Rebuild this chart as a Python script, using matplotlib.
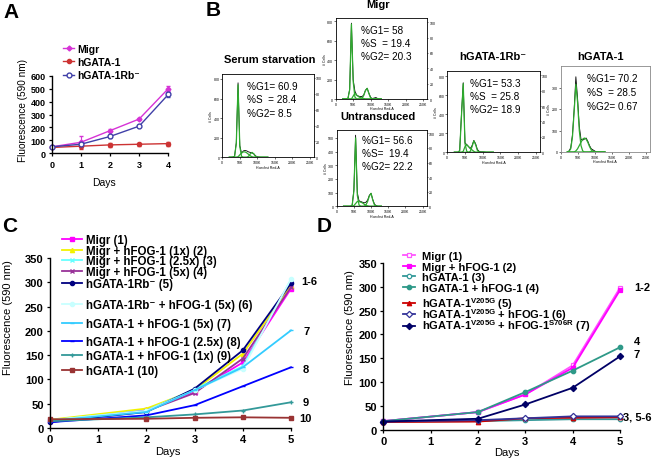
import matplotlib
matplotlib.use("Agg")
import matplotlib.pyplot as plt

plt.rcParams['font.family'] = ['Liberation Sans', 'DejaVu Sans']
plt.rcParams['font.weight'] = 'bold'
plt.rcParams['mathtext.fontset'] = 'custom'
plt.rcParams['mathtext.rm'] = 'Liberation Sans:bold'
plt.rcParams['mathtext.bf'] = 'Liberation Sans:bold'
plt.rcParams['axes.linewidth'] = 1.0

# ---- data: panel A ----
a_days = [0, 1, 2, 3, 4]
a_labels = ['Migr', 'hGATA-1', 'hGATA-1Rb\u207b']
a_migr = [50, 85, 175, 265, 500]
a_migr_err = [5, 45, 10, 10, 20]
a_gata = [45, 55, 65, 70, 75]
a_gata_err = [5, 20, 15, 12, 15]
a_rb = [50, 70, 130, 210, 455]
a_rb_err = [5, 10, 8, 10, 20]

# ---- data: panel B (cell cycle histograms, counts per 5K bin) ----
hist_k = [20, 25, 30, 35, 40, 45, 50, 55, 60, 65, 70, 75, 80, 85, 90, 95, 100, 105, 110, 115, 120, 125, 130]

ss_black = [0, 0, 2, 10, 150, 760, 120, 40, 65, 70, 65, 55, 50, 45, 35, 15, 5, 2, 0, 0, 0, 0, 0]
ss_g1 = [0, 0, 0, 8, 140, 740, 110, 10, 0, 0, 0, 0, 0, 0, 0, 0, 0, 0, 0, 0, 0, 0, 0]
ss_s = [0, 0, 0, 0, 0, 5, 25, 45, 55, 55, 45, 30, 15, 5, 0, 0, 0, 0, 0, 0, 0, 0, 0]
ss_g2 = [0, 0, 0, 0, 0, 0, 0, 0, 0, 0, 0, 10, 35, 50, 35, 10, 0, 0, 0, 0, 0, 0, 0]

mg_black = [0, 0, 0, 5, 100, 780, 200, 80, 40, 30, 25, 25, 40, 90, 110, 60, 15, 5, 10, 15, 5, 0, 0]
mg_g1 = [0, 0, 0, 5, 95, 770, 180, 20, 0, 0, 0, 0, 0, 0, 0, 0, 0, 0, 0, 0, 0, 0, 0]
mg_s = [0, 0, 0, 0, 0, 0, 30, 60, 40, 25, 15, 10, 5, 0, 0, 0, 0, 0, 0, 0, 0, 0, 0]
mg_g2 = [0, 0, 0, 0, 0, 0, 0, 0, 0, 0, 0, 5, 35, 85, 110, 55, 10, 0, 0, 0, 0, 0, 0]

un_black = [0, 0, 0, 0, 0, 10, 120, 520, 100, 40, 35, 30, 25, 30, 45, 80, 95, 50, 15, 5, 0, 0, 0]
un_g1 = [0, 0, 0, 0, 0, 5, 110, 500, 80, 10, 0, 0, 0, 0, 0, 0, 0, 0, 0, 0, 0, 0, 0]
un_s = [0, 0, 0, 0, 0, 0, 5, 20, 35, 35, 30, 25, 15, 8, 3, 0, 0, 0, 0, 0, 0, 0, 0]
un_g2 = [0, 0, 0, 0, 0, 0, 0, 0, 0, 0, 0, 0, 0, 10, 35, 75, 95, 45, 10, 0, 0, 0, 0]

rb_black = [0, 0, 0, 20, 400, 730, 100, 80, 60, 40, 70, 125, 90, 30, 10, 5, 5, 3, 0, 0, 0, 0, 0]
rb_g1 = [0, 0, 0, 15, 380, 720, 90, 10, 0, 0, 0, 0, 0, 0, 0, 0, 0, 0, 0, 0, 0, 0, 0]
rb_s = [0, 0, 0, 0, 0, 10, 60, 80, 60, 40, 25, 10, 0, 0, 0, 0, 0, 0, 0, 0, 0, 0, 0]
rb_g2 = [0, 0, 0, 0, 0, 0, 0, 0, 0, 10, 60, 120, 80, 20, 0, 0, 0, 0, 0, 0, 0, 0, 0]

ga_black = [0, 5, 20, 80, 200, 350, 250, 120, 60, 55, 60, 65, 50, 30, 15, 10, 5, 0, 0, 0, 0, 0, 0]
ga_g1 = [0, 3, 15, 70, 190, 315, 230, 100, 30, 5, 0, 0, 0, 0, 0, 0, 0, 0, 0, 0, 0, 0, 0]
ga_s = [0, 0, 0, 0, 0, 5, 15, 30, 45, 60, 65, 60, 45, 25, 10, 3, 0, 0, 0, 0, 0, 0, 0]
ga_g2 = [0, 0, 0, 0, 0, 0, 0, 0, 0, 0, 0, 0, 0, 0, 3, 2, 0, 0, 0, 0, 0, 0, 0]

ss_stats = ['%G1= 60.9', '%S  = 28.4', '%G2= 8.5']
mg_stats = ['%G1= 58', '%S  = 19.4', '%G2= 20.3']
un_stats = ['%G1= 56.6', '%S=  19.4', '%G2= 22.2']
rb_stats = ['%G1= 53.3', '%S  = 25.8', '%G2= 18.9']
ga_stats = ['%G1= 70.2', '%S  = 28.5', '%G2= 0.67']

# ---- data: panel C ----
c_days = [0, 2, 3, 4, 5]
c_labels = ['Migr (1)', 'Migr + hFOG-1 (1x) (2)', 'Migr + hFOG-1 (2.5x) (3)',
            'Migr + hFOG-1 (5x) (4)', 'hGATA-1Rb\u207b (5)',
            'hGATA-1Rb\u207b + hFOG-1 (5x) (6)', 'hGATA-1 + hFOG-1 (5x) (7)',
            'hGATA-1 + hFOG-1 (2.5x) (8)', 'hGATA-1 + hFOG-1 (1x) (9)', 'hGATA-1 (10)']
c1 = [15, 37, 75, 135, 287]
c2 = [17, 40, 78, 153, 293]
c3 = [16, 36, 80, 127, 305]
c4 = [14, 35, 72, 143, 290]
c5 = [12, 33, 81, 160, 298]
c6 = [16, 35, 78, 122, 307]
c7 = [15, 33, 78, 125, 201]
c8 = [12, 26, 47, 86, 125]
c9 = [14, 22, 28, 36, 53]
c10 = [18, 19, 21, 22, 21]
c_end_labels = ['1-6', '7', '8', '9', '10']

# ---- data: panel D ----
d_days = [0, 2, 3, 4, 5]
d_labels = ['Migr (1)', 'Migr + hFOG-1 (2)', 'hGATA-1 (3)', 'hGATA-1 + hFOG-1 (4)',
            r'hGATA-1$^{\mathbf{V205G}}$ (5)',
            r'hGATA-1$^{\mathbf{V205G}}$ + hFOG-1 (6)',
            r'hGATA-1$^{\mathbf{V205G}}$ + hFOG-1$^{\mathbf{S706R}}$ (7)']
d1 = [18, 37, 74, 135, 298]
d2 = [18, 37, 74, 130, 293]
d3 = [17, 18, 20, 22, 22]
d4 = [18, 37, 79, 124, 173]
d5 = [16, 17, 24, 25, 26]
d6 = [17, 20, 24, 28, 28]
d7 = [17, 23, 53, 88, 154]
d_end_labels = ['1-2', '4', '7', '3, 5-6']

W, H = 661, 460


def box(l, t, r, b):
    return [l / W, 1 - b / H, (r - l) / W, (b - t) / H]


def pt(x, y):
    return (x / W, 1 - y / H)


fig = plt.figure(figsize=(6.61, 4.60), dpi=100)


def excel_axes(ax, fs):
    ax.spines['top'].set_visible(False)
    ax.spines['right'].set_visible(False)
    ax.tick_params(labelsize=fs, length=2.5, width=0.9, pad=2)


# ---------------- panel A ----------------
axA = fig.add_axes(box(51.7, 76.7, 168.3, 154.3))
hA = []
hA.append(axA.errorbar(a_days, a_migr, yerr=a_migr_err, color='#d633d6', marker='D', ms=2.5,
                       lw=1.0, capsize=1.5, elinewidth=0.8, clip_on=False))
hA.append(axA.errorbar(a_days, a_gata, yerr=a_gata_err, color='#cc3333', marker='o', ms=3,
                       lw=1.0, capsize=1.5, elinewidth=0.8, clip_on=False))
hA.append(axA.errorbar(a_days, a_rb, yerr=a_rb_err, color='#4040a8', marker='o', ms=3.5,
                       mfc='white', lw=1.0, capsize=1.5, elinewidth=0.8, clip_on=False))
axA.set_xlim(0, 4)
axA.set_ylim(0, 600)
axA.set_xticks(a_days)
axA.set_yticks(range(0, 601, 100))
excel_axes(axA, 6.5)
axA.set_xlabel('Days', fontsize=7.5, va='center')
axA.xaxis.set_label_coords(0.45, -0.37)
axA.set_ylabel('Fluorescence (590 nm)', fontsize=7.2, va='center')
axA.yaxis.set_label_coords(-0.246, 0.56)
fig.legend([h[0] for h in hA], a_labels, loc='upper left', bbox_to_anchor=pt(63, 45),
           frameon=False, fontsize=7.5, handlelength=1.1, handletextpad=0.25,
           borderpad=0, borderaxespad=0, labelspacing=0.3)
fig.text(*pt(3, 13), 'A', fontsize=15, va='center', ha='left')

# ---------------- panel B ----------------
fig.text(*pt(206, 11), 'B', fontsize=15, va='center', ha='left')
green = '#2eaa2e'


def draw_hist(rect, ymax, yticks, black, g1, s, g2, stats, tx, title, tpos, twin=True, edge='black'):
    ax = fig.add_axes(rect)
    ax.plot(hist_k, black, color='black', lw=0.6)
    ax.plot(hist_k, g1, color=green, lw=0.9)
    ax.plot(hist_k, s, color=green, lw=0.9)
    ax.plot(hist_k, g2, color=green, lw=0.9)
    ax.set_xlim(0, 262)
    ax.set_ylim(0, ymax)
    ax.set_xticks([0, 50, 100, 150, 200, 250])
    ax.set_xticklabels(['0', '50K', '100K', '150K', '200K', '250K'], fontweight='normal')
    ax.set_yticks(yticks)
    ax.set_yticklabels([str(v) for v in yticks], fontweight='normal')
    ax.tick_params(labelsize=2.5, length=1.2, width=0.4, pad=0.8)
    ax.set_xlabel('Hoechst Red-A', fontsize=2.5, fontweight='normal', labelpad=0.5)
    ax.set_ylabel('# Cells', fontsize=2.5, fontweight='normal', labelpad=0.3)
    for sp in ax.spines.values():
        sp.set_linewidth(0.6)
        sp.set_color(edge)
    if twin:
        tw = ax.twinx()
        tw.set_ylim(0, 105)
        tw.set_yticks([0, 20, 40, 60, 80, 100])
        tw.set_yticklabels(['0', '20', '40', '60', '80', '100'], fontweight='normal')
        tw.tick_params(labelsize=2.5, length=1.0, width=0.4, pad=0.6)
        for sp in tw.spines.values():
            sp.set_visible(False)
    for i, line in enumerate(stats):
        ax.text(tx, 0.86 - i * 0.165, line, transform=ax.transAxes, fontsize=7.2,
                fontweight='normal', va='center', ha='left')
    fig.text(*pt(*tpos), title, fontsize=8, ha='center', va='center')
    return ax


draw_hist(box(222.3, 75, 314, 158.3), 850, [0, 200, 400, 600, 800],
          ss_black, ss_g1, ss_s, ss_g2, ss_stats, 0.265, 'Serum starvation', (270, 60))
draw_hist(box(335.7, 19.3, 427.3, 100), 830, [0, 200, 400, 600, 800],
          mg_black, mg_g1, mg_s, mg_g2, mg_stats, 0.28, 'Migr', (378, 5))
draw_hist(box(336.7, 130.7, 426.7, 207.3), 560, [0, 100, 200, 300, 400, 500],
          un_black, un_g1, un_s, un_g2, un_stats, 0.285, 'Untransduced', (378, 117))
draw_hist(box(447.3, 72.3, 540, 153.3), 850, [0, 200, 400, 600, 800],
          rb_black, rb_g1, rb_s, rb_g2, rb_stats, 0.25, 'hGATA-1Rb\u207b', (493, 57))
draw_hist(box(560.5, 67, 650, 153), 400, [0, 100, 200, 300],
          ga_black, ga_g1, ga_s, ga_g2, ga_stats, 0.30, 'hGATA-1', (600, 57),
          twin=False, edge='#888888')

# ---------------- panel C ----------------
axC = fig.add_axes(box(50, 259, 291, 429))
c_series = [c1, c2, c3, c4, c5, c6, c7, c8, c9, c10]
c_colors = ['#ff00ff', '#f2f200', '#66ffff', '#993399', '#000080',
            '#c8ffff', '#33ccff', '#0000ff', '#339999', '#993333']
c_markers = ['s', '^', 'x', 'x', 'o', 'o', '_', '_', '+', 's']
c_handles = []
for vals, col, mk in zip(c_series, c_colors, c_markers):
    ln, = axC.plot(c_days, vals, color=col, marker=mk, ms=3, mew=1.0, lw=1.3, clip_on=False)
    c_handles.append(ln)
axC.set_xlim(0, 5)
axC.set_ylim(0, 350)
axC.set_xticks(range(6))
axC.set_yticks(range(0, 351, 50))
excel_axes(axC, 8)
axC.set_xlabel('Days', fontsize=8, va='center')
axC.xaxis.set_label_coords(0.49, -0.135)
axC.set_ylabel('Fluorescence (590 nm)', fontsize=8, va='center')
axC.yaxis.set_label_coords(-0.173, 0.656)
c_rows = [241, 252, 262, 273, 285, 306, 325, 343, 357, 372]
for h, lab, y in zip(c_handles, c_labels, c_rows):
    fig.legend([h], [lab], loc='center left', bbox_to_anchor=pt(62, y), frameon=False,
               fontsize=8.3, handlelength=1.7, handletextpad=0.4, borderpad=0, borderaxespad=0)
for lab, (x, y) in zip(c_end_labels, [(301, 282), (303, 332), (303, 370), (303, 403), (299, 419)]):
    fig.text(*pt(x, y), lab, fontsize=8, ha='left', va='center')
fig.text(*pt(2, 226), 'C', fontsize=15, va='center', ha='left')

# ---------------- panel D ----------------
axD = fig.add_axes(box(383.3, 264, 620, 430.7))
d_series = [d1, d2, d3, d4, d5, d6, d7]
d_colors = ['#ff55ff', '#ff00ff', '#339999', '#2e9988', '#cc0000', '#333399', '#000066']
d_markers = ['s', 's', 'o', 'o', '^', 'D', 'D']
d_mfc = ['white', '#ff00ff', 'white', '#2e9988', '#cc0000', 'white', '#000066']
d_handles = []
for vals, col, mk, fc in zip(d_series, d_colors, d_markers, d_mfc):
    ln, = axD.plot(d_days, vals, color=col, marker=mk, mfc=fc, ms=3.2, mew=0.9, lw=1.3,
                   clip_on=False)
    d_handles.append(ln)
axD.set_xlim(0, 5)
axD.set_ylim(0, 350)
axD.set_xticks(range(6))
axD.set_yticks(range(0, 351, 50))
excel_axes(axD, 8)
axD.set_xlabel('Days', fontsize=8, va='center')
axD.xaxis.set_label_coords(0.521, -0.132)
axD.set_ylabel('Fluorescence (590 nm)', fontsize=8, va='center')
axD.yaxis.set_label_coords(-0.141, 0.616)
d_rows = [256.7, 267.7, 278.3, 289.3, 304, 315.3, 326.5]
for h, lab, y in zip(d_handles, d_labels, d_rows):
    fig.legend([h], [lab], loc='center left', bbox_to_anchor=pt(403, y), frameon=False,
               fontsize=8.0, handlelength=1.05, handletextpad=0.7, borderpad=0, borderaxespad=0)
for lab, (x, y) in zip(d_end_labels, [(634, 288), (634, 342), (634, 355), (623, 418)]):
    fig.text(*pt(x, y), lab, fontsize=8, ha='left', va='center')
fig.text(*pt(317, 227), 'D', fontsize=15, va='center', ha='left')

fig.savefig('out.png', dpi=100)
